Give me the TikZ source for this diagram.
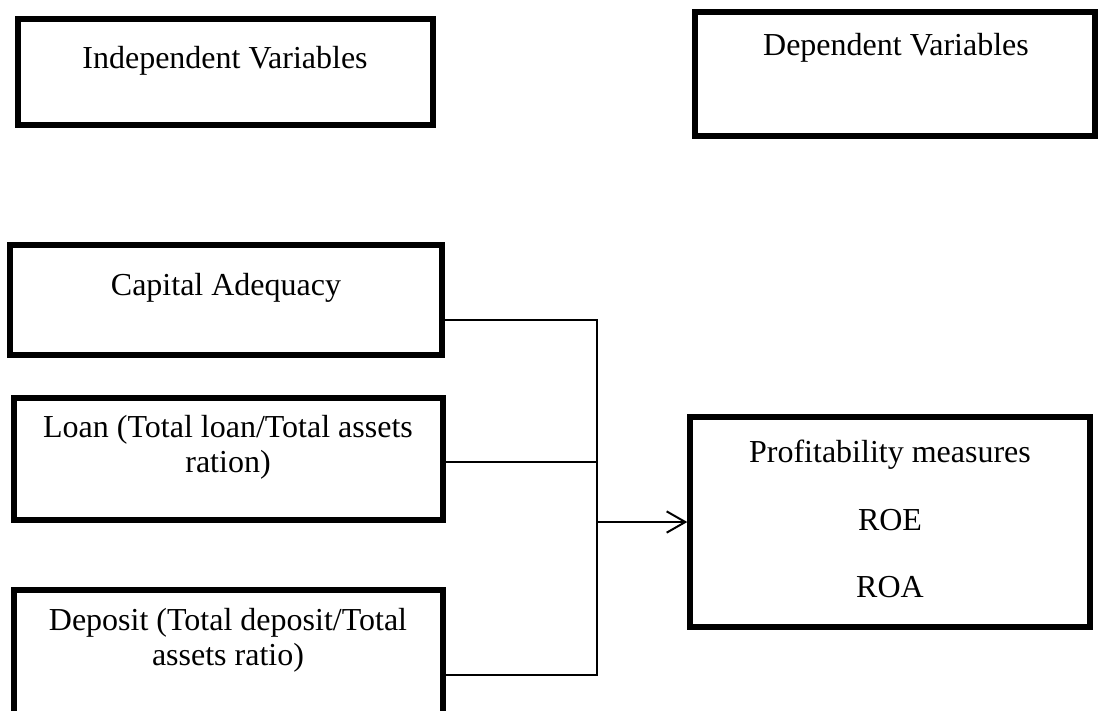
\documentclass[tikz,border=0pt]{standalone}
\usepackage{fontspec}
\setmainfont{Liberation Serif}
\usetikzlibrary{arrows.meta,fit}
\begin{document}
\begin{tikzpicture}[x=0.375pt,y=-0.375pt,
    varbox/.style={draw,line width=2pt,inner sep=0pt},
    txt/.style={align=center,inner sep=0pt,font=\fontsize{12}{13.2}\selectfont},
    link/.style={line width=0.75pt}]
    \useasboundingbox (0,0) rectangle (1102,710);
    \clip (0,0) rectangle (1102,710);
    \node[varbox,fit={(18,19) (433,125)}] (indep) {};
    \node[txt] (indeplab) at (225,61) {Independent Variables};
    \node[varbox,fit={(695,12) (1095,136)}] (dep) {};
    \node[txt] (deplab) at (896,48) {Dependent Variables};
    \node[varbox,fit={(10,245) (442,355)}] (cap) {};
    \node[txt] (caplab) at (226,288) {Capital Adequacy};
    \node[varbox,fit={(14,398) (443,520)}] (loan) {};
    \node[txt] (loanlab) at (228,447) {Loan (Total loan/Total assets\\ration)};
    \node[varbox,fit={(14,590) (443,760)}] (depo) {};
    \node[txt] (depolab) at (228,640) {Deposit (Total deposit/Total\\assets ratio)};
    \node[varbox,fit={(690,417) (1090,627)}] (profit) {};
    \node[txt] (profitlab) at (890,519) {Profitability measures\\[12pt]ROE\\[12pt]ROA};
    \coordinate (jcap) at (597,320);
    \coordinate (jloan) at (597,462);
    \coordinate (jdepo) at (597,675);
    \draw[link] (cap.east |- jcap) -- (jcap) -- (jdepo) -- (depo.east |- jdepo);
    \draw[link] (loan.east |- jloan) -- (jloan);
    \draw[link,-{Straight Barb[length=7pt,width=8pt]}] (jcap |- profit.west) -- (profit.west);
\end{tikzpicture}
\end{document}
